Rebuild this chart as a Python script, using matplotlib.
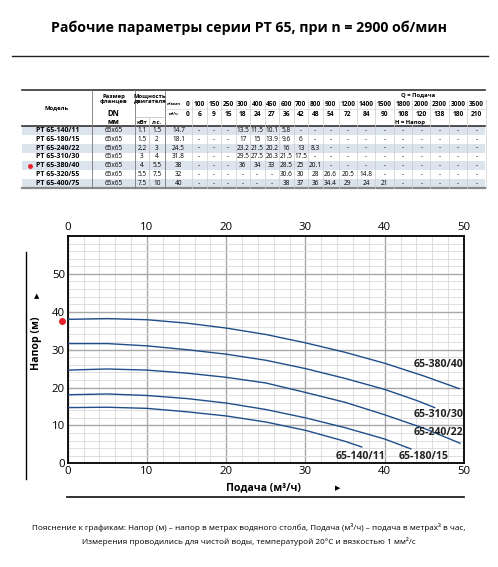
import numpy as np
import matplotlib
matplotlib.use("Agg")
import matplotlib.pyplot as plt
from matplotlib.patches import Rectangle
from matplotlib.ticker import MultipleLocator

plt.rcParams['font.family'] = ['Open Sans', 'DejaVu Sans']

# --- данные таблицы ---
models = ['PT 65-140/11', 'PT 65-180/15', 'PT 65-240/22', 'PT 65-310/30',
          'PT 65-380/40', 'PT 65-320/55', 'PT 65-400/75']
flange = ['65x65'] * 7
power_kw = ['1.1', '1.5', '2.2', '3', '4', '5.5', '7.5']
power_hp = ['1.5', '2', '3', '4', '5.5', '7.5', '10']
q_lmin = ['0', '100', '150', '250', '300', '400', '450', '600', '700', '800', '900',
          '1200', '1400', '1500', '1800', '2000', '2300', '3000', '3500']
q_m3h = ['0', '6', '9', '15', '18', '24', '27', '36', '42', '48', '54',
         '72', '84', '90', '108', '120', '138', '180', '210']
D = '-'
head_rows = [
    ['14.7', D, D, D, '13.5', '11.5', '10.1', '5.8', D, D, D, D, D, D, D, D, D, D, D],
    ['18.1', D, D, D, '17', '15', '13.9', '9.6', '6', D, D, D, D, D, D, D, D, D, D],
    ['24.5', D, D, D, '23.2', '21.5', '20.2', '16', '13', '8.3', D, D, D, D, D, D, D, D, D],
    ['31.8', D, D, D, '29.5', '27.5', '26.3', '21.5', '17.5', D, D, D, D, D, D, D, D, D, D],
    ['38', D, D, D, '36', '34', '33', '28.5', '25', '20.1', D, D, D, D, D, D, D, D, D],
    ['32', D, D, D, D, D, D, '30.6', '30', '28', '26.6', '20.5', '14.8', D, D, D, D, D, D],
    ['40', D, D, D, D, D, D, '38', '37', '36', '34.4', '29', '24', '21', D, D, D, D, D],
]

# --- данные кривых ---
q_380 = [0, 5, 10, 15, 20, 25, 30, 35, 40, 45, 49.4]
h_380 = [38.0, 38.2, 37.9, 37.0, 35.7, 34.0, 31.8, 29.3, 26.4, 23.0, 19.7]
q_310 = [0, 5, 10, 15, 20, 25, 30, 35, 40, 44, 46.3]
h_310 = [31.6, 31.6, 31.0, 30.0, 28.8, 27.2, 25.0, 22.4, 19.5, 16.6, 14.7]
q_240 = [0, 5, 10, 15, 20, 25, 30, 35, 40, 45, 49.5]
h_240 = [24.6, 24.9, 24.6, 23.8, 22.7, 21.2, 18.7, 16.1, 12.8, 9.2, 5.3]
q_180 = [0, 5, 10, 15, 20, 25, 30, 35, 40, 43.3]
h_180 = [18.1, 18.3, 17.9, 17.1, 15.9, 14.2, 12.0, 9.4, 6.4, 3.8]
q_140 = [0, 5, 10, 15, 20, 25, 30, 35, 37.1]
h_140 = [14.7, 14.8, 14.5, 13.6, 12.5, 10.9, 8.7, 5.8, 4.3]

W, H = 498, 567
fig = plt.figure(figsize=(W / 100, H / 100), dpi=100)

# фон в пикселях для заголовка, таблицы и подписей
bg = fig.add_axes([0, 0, 1, 1])
bg.set_xlim(0, W)
bg.set_ylim(H, 0)
bg.axis('off')

bg.text(249, 28, 'Рабочие параметры серии PT 65, при n = 2900 об/мин',
        ha='center', va='center', fontsize=10.2, fontweight='bold')
bg.plot([12, 488], [56, 56], color='#222222', lw=1.0)

# --- таблица ---
x0, x_end = 22, 485
col_model = (22, 92)
col_dn = (92, 135)
col_kw = (135, 149)
col_hp = (149, 165)
col_q0 = (165, 192)
widths = [14.5] * 9 + [16] + [18.4] * 8
q_edges = [192]
for w in widths:
    q_edges.append(q_edges[-1] + w)
q_cols = [col_q0] + [(q_edges[i], q_edges[i + 1]) for i in range(len(widths))]

top, head_bot, bot = 90, 126, 188
row_h = (bot - head_bot) / len(models)

for i in range(len(models)):
    y = head_bot + i * row_h
    if i % 2 == 0:
        bg.add_patch(Rectangle((x0, y), x_end - x0, row_h, color='#dbe3ec', lw=0))

# линии
bg.plot([x0, x_end], [top, top], color='#333333', lw=1.2)
bg.plot([x0, x_end], [head_bot, head_bot], color='#333333', lw=1.2)
bg.plot([x0, x_end], [bot, bot], color='#888888', lw=1.6)
for xv in [col_model[1], col_dn[1], col_hp[1]]:
    bg.plot([xv, xv], [top, bot], color='#777777', lw=0.6)
bg.plot([col_kw[1], col_kw[1]], [117, bot], color='#bbbbbb', lw=0.5)
bg.plot([col_kw[0], col_hp[1]], [117, 117], color='#bbbbbb', lw=0.5)
for a, b in q_cols:
    bg.plot([b, b], [100, bot], color='#cccccc', lw=0.5)
bg.plot([col_q0[0], x_end], [109, 109], color='#cccccc', lw=0.4)

fs_h = 4.2
bg.text(np.mean(col_model), 108, 'Модель', ha='center', va='center', fontsize=fs_h, fontweight='bold')
bg.text(np.mean(col_dn), 99, 'Размер\nфланцев', ha='center', va='center', fontsize=fs_h,
        fontweight='bold', linespacing=1.1)
bg.text(np.mean(col_dn), 113, 'DN', ha='center', va='center', fontsize=5.5, fontweight='bold')
bg.text(np.mean(col_dn), 122, 'мм', ha='center', va='center', fontsize=5, fontweight='bold')
bg.text(150, 99, 'Мощность\nдвигателя', ha='center', va='center', fontsize=fs_h,
        fontweight='bold', linespacing=1.1)
bg.text(np.mean(col_kw), 122.5, 'кВт', ha='center', va='center', fontsize=fs_h, fontweight='bold')
bg.text(np.mean(col_hp), 122.5, 'л.с.', ha='center', va='center', fontsize=fs_h, fontweight='bold')
bg.text(418, 95, 'Q = Подача', ha='center', va='center', fontsize=fs_h, fontweight='bold')
bg.text(410, 122.5, 'H = Напор', ha='center', va='center', fontsize=fs_h, fontweight='bold')

fs_q = 4.8
for j, (a, b) in enumerate(q_cols):
    if j == 0:
        bg.text(a + 2, 104, 'л/мин', ha='left', va='center', fontsize=3, fontweight='bold')
        bg.text(b - 2, 104, q_lmin[0], ha='right', va='center', fontsize=fs_q, fontweight='bold')
        bg.text(a + 4, 114, 'м³/ч', ha='left', va='center', fontsize=3, fontweight='bold')
        bg.text(b - 2, 114, q_m3h[0], ha='right', va='center', fontsize=fs_q, fontweight='bold')
    else:
        bg.text((a + b) / 2, 104, q_lmin[j], ha='center', va='center', fontsize=fs_q, fontweight='bold')
        bg.text((a + b) / 2, 114, q_m3h[j], ha='center', va='center', fontsize=fs_q, fontweight='bold')

fs_d = 4.7
for i, m in enumerate(models):
    yc = head_bot + (i + 0.5) * row_h
    bg.text(36, yc, m, ha='left', va='center', fontsize=5.0, fontweight='bold')
    bg.text(np.mean(col_dn), yc, flange[i], ha='center', va='center', fontsize=fs_d)
    bg.text(np.mean(col_kw), yc, power_kw[i], ha='center', va='center', fontsize=fs_d)
    bg.text(np.mean(col_hp), yc, power_hp[i], ha='center', va='center', fontsize=fs_d)
    for j, (a, b) in enumerate(q_cols):
        bg.text((a + b) / 2, yc, head_rows[i][j], ha='center', va='center', fontsize=fs_d)
# отметка выбранной модели
bg.plot(30, head_bot + 4.5 * row_h, 'o', color='#e8202a', ms=2.5)

# --- график ---
ax = fig.add_axes([67.7 / W, 1 - 463.3 / H, (464 - 67.7) / W, (463.3 - 236) / H])
curve_color = '#1f4e8a'
for q, h in [(q_380, h_380), (q_310, h_310), (q_240, h_240), (q_180, h_180), (q_140, h_140)]:
    ax.plot(q, h, color=curve_color, lw=1.0, zorder=3)

ax.set_xlim(0, 50)
ax.set_ylim(0, 60)
ax.xaxis.set_major_locator(MultipleLocator(10))
ax.xaxis.set_minor_locator(MultipleLocator(2))
ax.yaxis.set_major_locator(MultipleLocator(10))
ax.yaxis.set_minor_locator(MultipleLocator(2))
ax.grid(which='minor', color='#d9d9d9', lw=0.6)
ax.grid(which='major', color='#a8a8a8', lw=1.0)
ax.set_yticks([0, 10, 20, 30, 40, 50])
ax.tick_params(which='both', length=0, labelsize=8.2, pad=2)
ax.tick_params(axis='x', top=True, labeltop=True)
for s in ax.spines.values():
    s.set_linewidth(1.3)

lab = dict(fontsize=7.6, fontweight='bold', color='#222222', zorder=4)
ax.text(49.9, 26.2, '65-380/40', ha='right', va='center', **lab)
ax.text(49.9, 12.8, '65-310/30', ha='right', va='center', **lab)
ax.text(49.9, 8.2, '65-240/22', ha='right', va='center', **lab)
ax.text(48.0, 1.9, '65-180/15', ha='right', va='center', **lab)
ax.text(40.1, 1.9, '65-140/11', ha='right', va='center', **lab)
ax.plot(-0.7, 37.6, 'o', color='#e8202a', ms=4, clip_on=False, zorder=5)

# подписи осей и стрелки
bg.text(37, 343, 'Напор (м)', rotation=90, ha='center', va='center', fontsize=7.6, fontweight='bold')
bg.text(37, 297, '▲', ha='center', va='center', fontsize=5)
bg.plot([25.7, 25.7], [252, 479], color='black', lw=1.0)
bg.text(263, 488, 'Подача (м³/ч)', ha='center', va='center', fontsize=7.6, fontweight='bold')
bg.text(338, 489, '▶', ha='center', va='center', fontsize=5)
bg.plot([67, 464], [496.7, 496.7], color='#222222', lw=1.3)

bg.text(249, 527.7, 'Пояснение к графикам: Напор (м) – напор в метрах водяного столба, '
        'Подача (м³/ч) – подача в метрах³ в час,', ha='center', va='center', fontsize=5.9)
bg.text(249, 541.7, 'Измерения проводились для чистой воды, температурой 20°C и вязкостью 1 мм²/с',
        ha='center', va='center', fontsize=5.9)

fig.savefig('out.png', dpi=100)
